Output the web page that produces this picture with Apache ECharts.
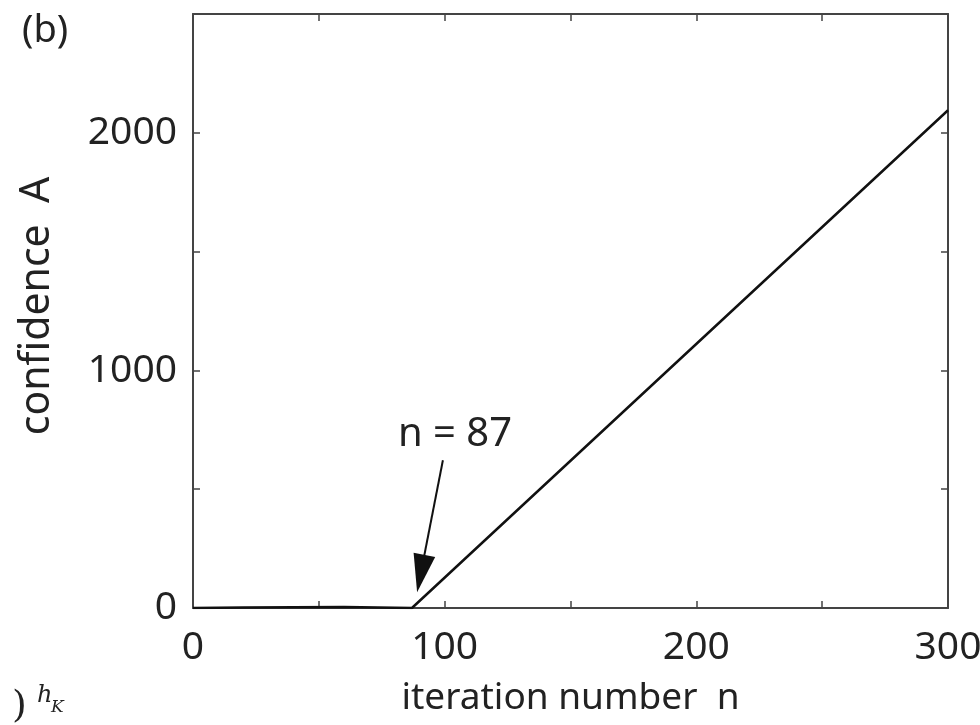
<!DOCTYPE html>
<html>
<head>
<meta charset="utf-8">
<title>confidence A</title>
<script src="https://cdn.jsdelivr.net/npm/echarts@6/dist/echarts.min.js"></script>
<style>
  html, body { margin: 0; padding: 0; background: #fff; }
  #chart { width: 980px; height: 725px; }
</style>
</head>
<body>
<div id="chart"></div>
<script>
// data
var iterN = [0, 20, 40, 60, 87, 300];
var confA = [0, 2, 3, 4, 0, 2095];
var xTickLabels = [0, 100, 200, 300];
var yTickLabels = [0, 1000, 2000];
// arrow: from just below the text to the kink at n = 87
var arrowFrom = [99.3, 622];
var arrowTo = [90.5, 145];
var noteText = 'n = 87';
var noteAt = [104.1, 731];

var lineData = [];
for (var i = 0; i < iterN.length; i++) {
  lineData.push([iterN[i], confA[i]]);
}

var fontFam = '"Noto Sans", "Open Sans", sans-serif';
var axisCol = '#444';

var myChart = echarts.init(document.getElementById('chart'));

var option = {
  animation: false,
  grid: { left: 193, right: 32, top: 14, bottom: 117, containLabel: false, outerBoundsMode: 'none' },
  xAxis: [
    {
      type: 'value', min: 0, max: 300, interval: 50, position: 'bottom',
      name: 'iteration number  n', nameLocation: 'middle', nameGap: 72,
      nameTextStyle: { fontFamily: fontFam, fontSize: 37, color: '#222' },
      axisLine: { show: true, onZero: false, lineStyle: { color: axisCol, width: 2 } },
      axisTick: { show: true, inside: true, length: 7, lineStyle: { color: axisCol, width: 1.5 } },
      axisLabel: {
        margin: 20, fontFamily: fontFam, fontSize: 39, color: '#222',
        formatter: function (v) { return xTickLabels.indexOf(v) >= 0 ? String(v) : ''; }
      },
      splitLine: { show: false }
    },
    {
      type: 'value', min: 0, max: 300, interval: 50, position: 'top',
      axisLine: { show: true, onZero: false, lineStyle: { color: axisCol, width: 2 } },
      axisTick: { show: true, inside: true, length: 7, lineStyle: { color: axisCol, width: 1.5 } },
      axisLabel: { show: false },
      splitLine: { show: false }
    }
  ],
  yAxis: [
    {
      type: 'value', min: 0, max: 2500, interval: 500, position: 'left',
      name: 'confidence  A', nameLocation: 'middle', nameGap: 135,
      nameTextStyle: { fontFamily: fontFam, fontSize: 41, color: '#222', padding: [0, 0, 0, 10] },
      axisLine: { show: true, onZero: false, lineStyle: { color: axisCol, width: 2 } },
      axisTick: { show: true, inside: true, length: 7, lineStyle: { color: axisCol, width: 1.5 } },
      axisLabel: {
        margin: 16, fontFamily: fontFam, fontSize: 39, color: '#222',
        formatter: function (v) { return yTickLabels.indexOf(v) >= 0 ? String(v) : ''; }
      },
      splitLine: { show: false }
    },
    {
      type: 'value', min: 0, max: 2500, interval: 500, position: 'right',
      axisLine: { show: true, onZero: false, lineStyle: { color: axisCol, width: 2 } },
      axisTick: { show: true, inside: true, length: 7, lineStyle: { color: axisCol, width: 1.5 } },
      axisLabel: { show: false },
      splitLine: { show: false }
    }
  ],
  series: [
    {
      type: 'line',
      data: lineData,
      showSymbol: false,
      lineStyle: { color: '#111', width: 2.5 },
      markLine: {
        silent: true,
        symbol: ['none', 'triangle'],
        symbolSize: [22, 38],
        lineStyle: { color: '#111', width: 2, type: 'solid' },
        label: { show: false },
        data: [[{ coord: arrowFrom }, { coord: arrowTo }]]
      },
      markPoint: {
        silent: true,
        symbol: 'rect', symbolSize: 1,
        itemStyle: { color: 'transparent' },
        label: {
          show: true, position: 'inside', formatter: noteText,
          fontFamily: fontFam, fontSize: 40, color: '#222'
        },
        data: [{ coord: noteAt }]
      }
    }
  ],
  graphic: [
    {
      type: 'text', left: 22, top: 12,
      style: { text: '(b)', font: '38px "Noto Sans", sans-serif', fill: '#222' }
    },
    {
      type: 'text', left: 12, top: 688,
      style: { text: ')', font: '38px "DejaVu Serif", serif', fill: '#222' }
    },
    {
      type: 'text', left: 37, top: 684,
      style: { text: 'h', font: 'italic 24px "DejaVu Serif", serif', fill: '#222' }
    },
    {
      type: 'text', left: 51, top: 699,
      style: { text: 'K', font: 'italic 17px "DejaVu Serif", serif', fill: '#222' }
    }
  ]
};

myChart.setOption(option);
</script>
</body>
</html>
